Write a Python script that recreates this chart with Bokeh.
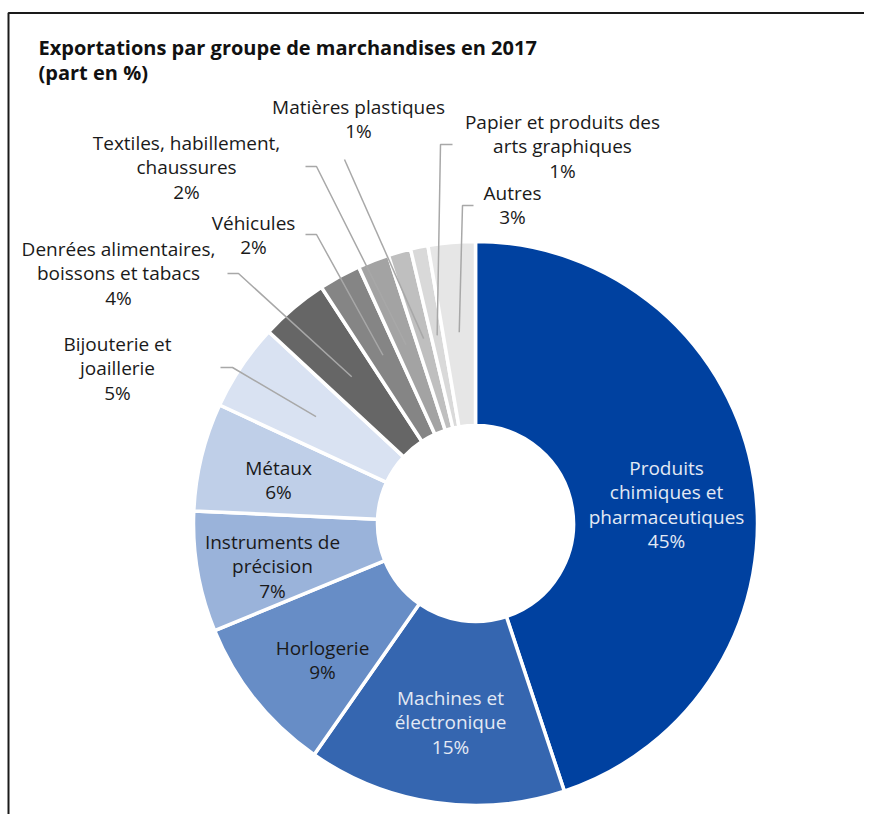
import math
from bokeh.plotting import figure
from bokeh.models import Range1d, ColumnDataSource
from bokeh.core.properties import value
from bokeh.embed import file_html
from bokeh.resources import INLINE

# ---- data ----
categories = [
    "Produits chimiques et pharmaceutiques",
    "Machines et électronique",
    "Horlogerie",
    "Instruments de précision",
    "Métaux",
    "Bijouterie et joaillerie",
    "Denrées alimentaires, boissons et tabacs",
    "Véhicules",
    "Textiles, habillement, chaussures",
    "Matières plastiques",
    "Papier et produits des arts graphiques",
    "Autres",
]
label_lines = [
    "Produits\nchimiques et\npharmaceutiques",
    "Machines et\nélectronique",
    "Horlogerie",
    "Instruments de\nprécision",
    "Métaux",
    "Bijouterie et\njoaillerie",
    "Denrées alimentaires,\nboissons et tabacs",
    "Véhicules",
    "Textiles, habillement,\nchaussures",
    "Matières plastiques",
    "Papier et produits des\narts graphiques",
    "Autres",
]
shares = [44.9, 14.8, 9.1, 6.9, 6.2, 5.0, 3.9, 2.4, 1.8, 1.3, 1.0, 2.7]
title_lines = ["Exportations par groupe de marchandises en 2017", "(part en %)"]

# ---- styles / layout ----
colors = ["#0041a0", "#3566b0", "#678dc6", "#9ab3da", "#bfcfe8", "#d9e2f2",
          "#666666", "#858585", "#a3a3a3", "#bfbfbf", "#d9d9d9", "#e6e6e6"]
text_colors = ["#e3e9f4", "#e3e9f4"] + ["#1a1a1a"] * 10
# label centre (first line) in picture pixels
label_pos = [(666, 467), (450, 697), (322, 647), (272, 541), (278, 467),
             (117, 343), (118, 248), (253, 222), (186, 142), (358, 106),
             (562, 121), (512, 192)]
# leader lines: (start, elbow) in picture pixels, None for inside labels
leaders = [None, None, None, None, None,
           ((220, 367), (232, 367)),
           ((227, 273), (238, 273)),
           ((305, 234), (316, 234)),
           ((305, 166), (316, 166)),
           ((344, 159), (344, 159)),
           ((452, 144), (440, 144)),
           ((473, 205), (462, 205))]

CX, CY = 475, -523
R_OUT, R_IN, R_LEAD = 282, 98, 192
FONT = "Open Sans"
FS = 19
LH = 24.5

W, H = 864, 814
p = figure(width=W, height=H, output_backend="svg", toolbar_location=None,
           x_range=Range1d(0, W), y_range=Range1d(-H, 0),
           x_axis_location=None, y_axis_location=None, min_border=0)
p.outline_line_color = None
p.grid.visible = False
p.background_fill_color = "white"

total = sum(shares)
starts, ends, mids = [], [], []
c = 0.0
for s in shares:
    c0 = c / total
    c += s
    c1 = c / total
    starts.append(math.pi / 2 - 2 * math.pi * c1)
    ends.append(math.pi / 2 - 2 * math.pi * c0)
    mids.append(math.pi / 2 - 2 * math.pi * (c0 + c1) / 2)

src = ColumnDataSource(dict(cat=categories, start=starts, end=ends, color=colors))
p.annular_wedge(x=CX, y=CY, inner_radius=R_IN, outer_radius=R_OUT,
                start_angle="start", end_angle="end", fill_color="color",
                line_color="white", line_width=3.5, source=src)

# leader lines
for i, ld in enumerate(leaders):
    if ld is None:
        continue
    (sx, sy), (ex, ey) = ld
    tx = CX + R_LEAD * math.cos(mids[i])
    ty = CY + R_LEAD * math.sin(mids[i])
    p.line([sx, ex, tx], [-sy, -ey, ty], line_color="#a8a8a8", line_width=1.5)

# labels
for i, lbl in enumerate(label_lines):
    lines = lbl.split("\n") + ["%d%%" % round(shares[i])]
    x0, y0 = label_pos[i]
    for k, t in enumerate(lines):
        p.text(x=[x0], y=[-(y0 + k * LH)], text=[t], text_align="center",
               text_baseline="middle", text_font=value(FONT),
               text_font_size="%.1fpx" % FS, text_color=text_colors[i])

# title
for k, t in enumerate(title_lines):
    p.text(x=[38], y=[-(47 + k * 25)], text=[t], text_align="left",
           text_baseline="middle", text_font=value(FONT),
           text_font_size="20px", text_font_style="bold", text_color="#111111")

# frame (open at right and bottom, as cropped)
p.line([8, 8, 864], [-814, -12.5, -12.5], line_color="#1a1a1a", line_width=2)

open("out.html", "w").write(file_html(p, INLINE))
